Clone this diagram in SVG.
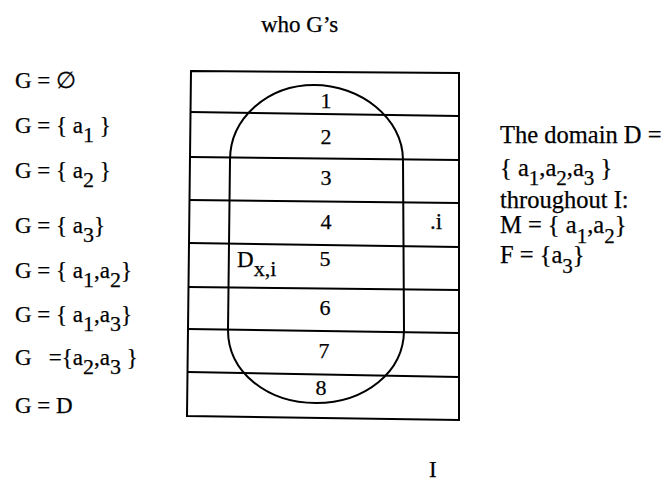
<svg xmlns="http://www.w3.org/2000/svg" width="669" height="481" viewBox="0 0 669 481">
<style>
text{font-family:"Liberation Serif","Times New Roman",serif;font-size:23px;fill:#000;stroke:#000;stroke-width:0.25;white-space:pre}
.num{font-size:22px;text-anchor:middle}
.sub{font-size:22px}
.rt{font-size:24.5px}
.rt .sub{font-size:21px}
.ln{stroke:#000;stroke-width:2;fill:none}
</style>
<rect width="669" height="481" fill="#fff"/>
<text id="title" x="261" y="32" font-size="24">who G’s</text>
<g id="left-labels">
<text x="15" y="88">G = ∅</text>
<text x="15" y="133">G = { a<tspan class="sub" dy="9">1</tspan><tspan dy="-9"> }</tspan></text>
<text x="15" y="178">G = { a<tspan class="sub" dy="9">2</tspan><tspan dy="-9"> }</tspan></text>
<text x="15" y="233">G = { a<tspan class="sub" dy="9">3</tspan><tspan dy="-9">}</tspan></text>
<text x="15" y="278">G = { a<tspan class="sub" dy="9">1</tspan><tspan dy="-9">,a</tspan><tspan class="sub" dy="9">2</tspan><tspan dy="-9">}</tspan></text>
<text x="15" y="322">G = { a<tspan class="sub" dy="9">1</tspan><tspan dy="-9">,a</tspan><tspan class="sub" dy="9">3</tspan><tspan dy="-9">}</tspan></text>
<text x="15" y="365">G   ={a<tspan class="sub" dy="9">2</tspan><tspan dy="-9">,a</tspan><tspan class="sub" dy="9">3</tspan><tspan dy="-9"> }</tspan></text>
<text x="15" y="413">G = D</text>
</g>
<g id="grid">
<path class="ln" d="M191,71 L459,73 L459,420 L187,416 Z"/>
<path class="ln" d="M190,112 L459,116 M190,157 L459,160 M189,200 L459,203 M189,243 L459,247 M188,287 L459,290 M188,329 L459,333 M188,372 L459,377"/>
</g>
<g id="oval">
<path class="ln" stroke-width="2.5" d="M230,160 C230,118 268,85 314,85 C360,85 403,118 403,160 L404,330 C404,372 365,403 316,403 C267,403 228,372 228,330 Z"/>
</g>
<g id="row-numbers">
<text class="num" x="326" y="108">1</text>
<text class="num" x="326" y="144">2</text>
<text class="num" x="326" y="185">3</text>
<text class="num" x="326" y="229">4</text>
<text class="num" x="325" y="266">5</text>
<text class="num" x="325" y="315">6</text>
<text class="num" x="324" y="358">7</text>
<text class="num" x="321" y="395">8</text>
</g>
<text id="dxi" x="237" y="267">D<tspan class="sub" dy="9">x,i</tspan></text>
<text id="dot-i" x="430" y="229">.i</text>
<g id="right-text">
<text class="rt" x="500" y="143">The domain D =</text>
<text class="rt" x="500" y="176">{ a<tspan class="sub" dy="9">1</tspan><tspan dy="-9">,a</tspan><tspan class="sub" dy="9">2</tspan><tspan dy="-9">,a</tspan><tspan class="sub" dy="9">3</tspan><tspan dy="-9"> }</tspan></text>
<text class="rt" x="500" y="208">throughout I:</text>
<text class="rt" x="500" y="233">M = { a<tspan class="sub" dy="10">1</tspan><tspan dy="-10">,a</tspan><tspan class="sub" dy="10">2</tspan><tspan dy="-10">}</tspan></text>
<text class="rt" x="500" y="263">F = {a<tspan class="sub" dy="10">3</tspan><tspan dy="-10">}</tspan></text>
</g>
<text id="I-label" x="429" y="477" font-size="24">I</text>
</svg>
